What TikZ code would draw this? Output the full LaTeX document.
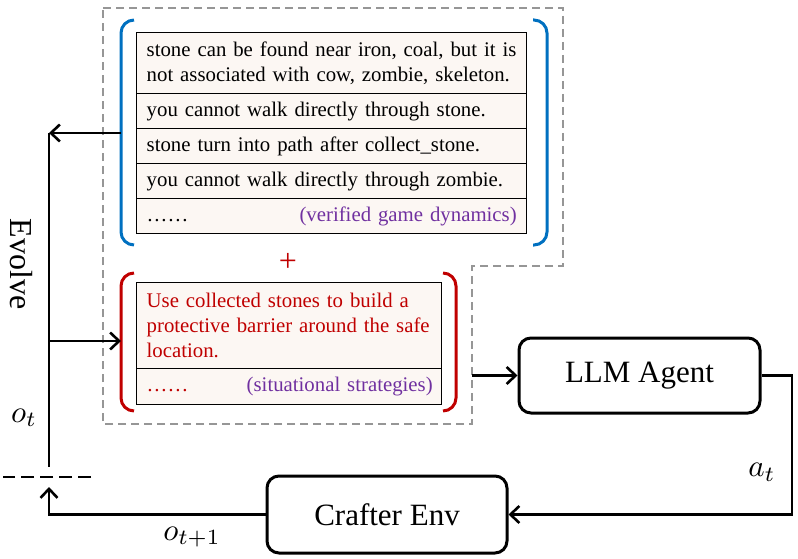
\documentclass[tikz,border=0pt]{standalone}
\usepackage{fontspec}
\setmainfont{Liberation Serif}
\usetikzlibrary{arrows.meta}
\definecolor{bluebr}{RGB}{0,112,192}
\definecolor{redbr}{RGB}{192,0,0}
\definecolor{purp}{RGB}{112,48,160}
\definecolor{tabfill}{RGB}{252,247,243}
\definecolor{dashgrey}{RGB}{150,150,150}
\begin{document}
\begin{tikzpicture}[x=1pt,y=-1pt,
  rowbox/.style={draw=black, fill=tabfill, line width=1.4pt, anchor=north west,
    minimum width=390pt, text width=370pt, inner xsep=10pt, inner ysep=0pt,
    align=left, font=\fontsize{20.8}{25}\selectfont},
  redrow/.style={rowbox, minimum width=305pt, text width=285pt, text=redbr},
  bracket/.style={line width=3pt, rounded corners=13pt},
  arr/.style={line width=2.6pt, -{Straight Barb[length=9pt,width=17pt,line width=2.6pt]}},
  plain/.style={line width=2.6pt},
  bigbox/.style={draw=black, line width=3pt, rounded corners=12pt, font=\fontsize{31}{31}\selectfont},
  mlabel/.style={font=\fontsize{10}{10}\selectfont, scale=3.1, inner sep=0pt},
  boundary/.style={draw=dashgrey, line width=1.8pt, dash pattern=on 8pt off 5pt}]
\useasboundingbox (0,0) rectangle (798,559);

% dashed boundary
\draw[boundary] (103,8) -- (563,8) -- (563,266) -- (472,266) -- (472,424) -- (103,424) -- cycle;

% verified game dynamics table
\node[rowbox, minimum height=61pt] (r1) at (136,32) {stone can be found near iron, coal, but it is\\not associated with cow, zombie, skeleton.};
\node[rowbox, minimum height=35pt] (r2) at (136,93) {you cannot walk directly through stone.};
\node[rowbox, minimum height=35pt] (r3) at (136,128) {stone turn into path after collect\_stone.};
\node[rowbox, minimum height=35pt] (r4) at (136,163) {you cannot walk directly through zombie.};
\node[rowbox, minimum height=35pt] (r5) at (136,198) {……\hfill\textcolor{purp}{(verified game dynamics)}};

% blue brackets
\draw[bracket, bluebr] (134,20) -- (121,20) -- (121,245) -- (134,245);
\draw[bracket, bluebr] (533,20) -- (547,20) -- (547,245) -- (533,245);

% plus
\node[text=redbr, font=\fontsize{32}{32}\selectfont, inner sep=0pt] (plus) at (288,262) {+};

% situational strategies table
\node[redrow, minimum height=86pt] (s1) at (136,282) {Use collected stones to build a\\protective barrier around the safe\\location.};
\node[redrow, minimum height=36pt] (s2) at (136,368) {……\hfill\textcolor{purp}{(situational strategies)}\hspace*{-1pt}};

% red brackets
\draw[bracket, redbr] (134,273) -- (121,273) -- (121,411) -- (134,411);
\draw[bracket, redbr] (443,273) -- (456,273) -- (456,411) -- (443,411);

% boxes
\node[bigbox, minimum width=241pt, minimum height=75pt] (llm) at (639.5,375.5) {LLM Agent};
\node[bigbox, minimum width=240pt, minimum height=77pt] (env) at (387,514.5) {Crafter Env};

% coordinates
\coordinate (bl) at (121,133);
\coordinate (jtop) at (49,133);
\coordinate (jmid) at (49,341);
\coordinate (rl) at (121,341);
\coordinate (jbot) at (49,467);
\coordinate (jin) at (49,487);
\coordinate (outR) at (472,375.5);
\coordinate (rc) at (792,375.5);
\coordinate (dl) at (3,477);
\coordinate (dr) at (91,477);

% connectors
\draw[arr] (bl) -- (jtop);
\draw[plain] (jtop) -- (jbot);
\draw[arr] (jmid) -- (rl);
\draw[arr] (outR) -- (llm.west);
\draw[arr] (llm.east) -- (rc) |- (env.east);
\draw[arr] (env.west) -| (jin);
\draw[line width=2.4pt, dash pattern=on 13pt off 6pt, dash phase=0pt] (dr) -- (dl);

% labels
\node[rotate=-90, font=\fontsize{32}{32}\selectfont, inner sep=0pt] (evolve) at (21,264) {Evolve};
\node[mlabel] (ot) at (24,418) {$o_t$};
\node[mlabel] (ot1) at (192,537) {$o_{t+1}$};
\node[mlabel] (at) at (762,472) {$a_t$};
\end{tikzpicture}
\end{document}
